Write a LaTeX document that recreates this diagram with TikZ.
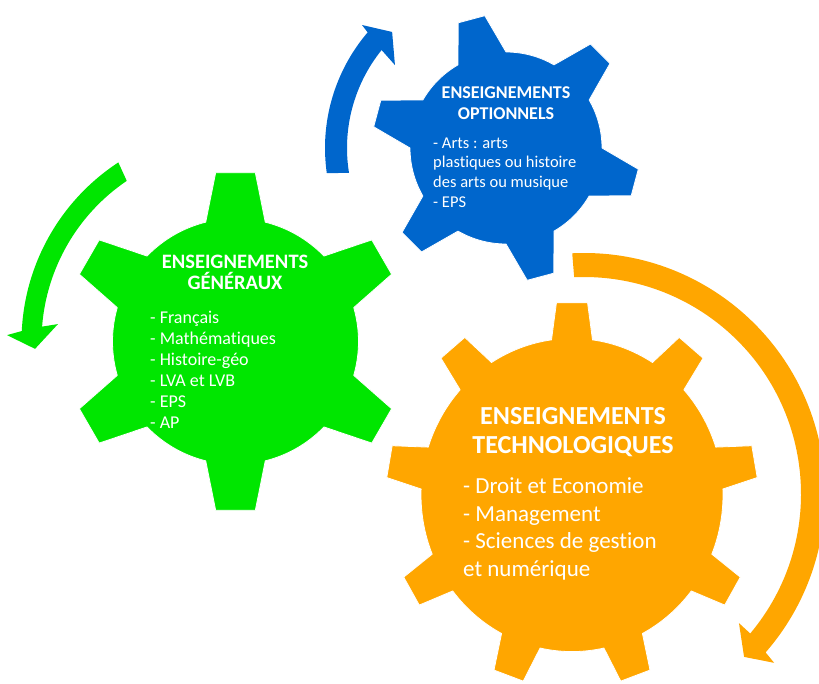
\documentclass[tikz,border=0pt]{standalone}
\usepackage{fontspec}
\setmainfont{Carlito}[Ligatures={NoCommon}]
\usetikzlibrary{calc}
\definecolor{gearGreen}{RGB}{0,230,0}
\definecolor{gearBlue}{RGB}{0,102,204}
\definecolor{gearOrange}{RGB}{255,166,0}
% #1 colour, #2 scope, #3 body radius, #4 tip radius, #5 teeth, #6 first tooth, #7 #8 base/tip half angles
\newcommand \drawgear[8]
{
\begin{scope}[#2]
\fill[#1,draw=white,line width=0.8pt] ({#6-#7}:#3)
  \foreach \k in {1,...,#5} {
    -- ({#6+(\k-1)*360/#5-#8}:#4) -- ({#6+(\k-1)*360/#5+#8}:#4)
    -- ({#6+(\k-1)*360/#5+#7}:#3)
    arc[start angle={#6+(\k-1)*360/#5+#7}, end angle={#6+\k*360/#5-#7}, radius=#3]
  } -- cycle;
\end{scope}
}
\tikzset{
  gear title/.style={text=white,align=center,inner sep=0pt},
  gear list/.style={text=white,align=left,inner sep=0pt,anchor=west}
}

\begin{document}
\begin{tikzpicture}[x=1pt,y=1pt,line join=round]
\useasboundingbox (0,0) rectangle (819,683);
% gears
\drawgear{gearGreen}{shift={(235.5,341.5)}}{123}{170}{6}{30}{14}{6.7}
\drawgear{gearBlue}{shift={(506,535)}}{96}{134}{6}{105}{15}{5.9}
\drawgear{gearOrange}{shift={(572,188)},yscale=1.037}{151}{186}{9}{90}{7.8}{4.8}
% turning arrows
\begin{scope}[shift={(235.5,341.5)}]
\fill[gearGreen] (123.2:214) arc[start angle=123.2,end angle=177.2,radius=214]
  -- (178.4:228.6) -- (182.1:200.6) -- (174.4:178.4) -- (175.6:194)
  arc[start angle=175.6,end angle=124.1,radius=194] -- cycle;
\end{scope}
\begin{scope}[shift={(503,535)}]
\fill[gearBlue] (188.1:178) arc[start angle=188.1,end angle=139.5,radius=178]
  -- (138.9:187.1) -- (133.7:160.5) -- (142.5:136.2) -- (141.1:156)
  arc[start angle=141.1,end angle=189.2,radius=156] -- cycle;
\end{scope}
\begin{scope}[shift={(584,189)}]
\fill[gearOrange] (92.8:241) arc[start angle=92.8,end angle=-41.1,radius=241]
  -- (-41.6:254.3) -- (-45.5:228.4) -- (-39.8:201.7) -- (-40:217)
  arc[start angle=-40,end angle=92.6,radius=217] -- cycle;
\end{scope}
% texts
\node[gear title,font=\bfseries\fontsize{20.5}{21}\selectfont] (gen title) at (235,410.5)
  {ENSEIGNEMENTS\\GÉNÉRAUX};
\node[gear list,font=\fontsize{18}{21}\selectfont] (gen list) at (150,313.5)
  {- Français\\- Mathématiques\\- Histoire-géo\\- LVA et LVB\\- EPS\\- AP};
\node[gear title,font=\bfseries\fontsize{18}{21}\selectfont] (opt title) at (506,579.5)
  {ENSEIGNEMENTS\\OPTIONNELS};
\node[gear list,font=\fontsize{16.5}{19.7}\selectfont] (opt list) at (433,510.5)
  {- Arts : arts\\plastiques ou histoire\\des arts ou musique\\- EPS};
\node[gear title,font=\bfseries\fontsize{26}{29}\selectfont] (tech title) at (573,250.5)
  {ENSEIGNEMENTS\\TECHNOLOGIQUES};
\node[gear list,font=\fontsize{23}{27.5}\selectfont] (tech list) at (463,154)
  {- Droit et Economie\\- Management\\- Sciences de gestion\\et numérique};
\end{tikzpicture}
\end{document}
